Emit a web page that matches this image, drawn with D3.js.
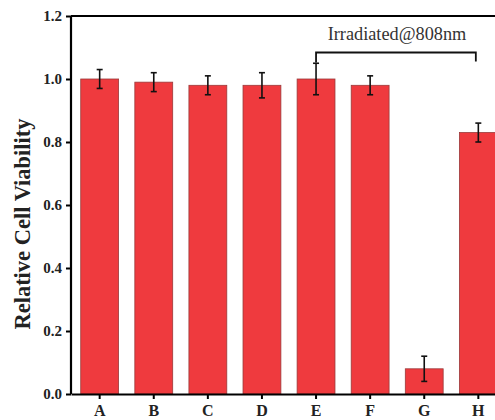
<!DOCTYPE html>
<html>
<head>
<meta charset="utf-8">
<script src="https://cdn.jsdelivr.net/npm/d3@7"></script>
<style>
  body { margin: 0; background: #fff; overflow: hidden; }
  svg { display: block; }
</style>
</head>
<body>
<div id="chart"></div>
<script>
// data
const groups = ['A', 'B', 'C', 'D', 'E', 'F', 'G', 'H'];
const viability = [1.00, 0.99, 0.98, 0.98, 1.00, 0.98, 0.08, 0.83];
const errors = [0.03, 0.03, 0.03, 0.04, 0.05, 0.03, 0.04, 0.03];
const yTicks = [0.0, 0.2, 0.4, 0.6, 0.8, 1.0, 1.2];
const bracketLabel = 'Irradiated@808nm';
const bracketFrom = 'E', bracketTo = 'H';

const W = 495, H = 420;
const margin = { top: 16, left: 71, bottom: 26 };
const plotRight = 507; // plot continues past the cropped edge
const font = '"Liberation Serif", "Times New Roman", serif';

const svg = d3.select('#chart').append('svg')
    .attr('width', W).attr('height', H);

const x = d3.scaleBand()
    .domain(groups)
    .range([margin.left, plotRight])
    .paddingInner(0.3)
    .paddingOuter(0.18);

const y = d3.scaleLinear()
    .domain([0, 1.2])
    .range([H - margin.bottom, margin.top]);

// bars
svg.append('g').selectAll('rect')
    .data(groups)
    .enter().append('rect')
    .attr('x', d => x(d))
    .attr('y', (d, i) => y(viability[i]))
    .attr('width', x.bandwidth())
    .attr('height', (d, i) => y(0) - y(viability[i]))
    .attr('fill', '#ef3a3e')
    .attr('stroke', '#9a3a3a')
    .attr('stroke-width', 0.8);

// error bars
const eb = svg.append('g').attr('stroke', '#111').attr('stroke-width', 1.6);
groups.forEach((g, i) => {
    const cx = x(g) + x.bandwidth() / 2;
    const hi = y(viability[i] + errors[i]), lo = y(viability[i] - errors[i]);
    eb.append('line').attr('x1', cx).attr('x2', cx).attr('y1', hi).attr('y2', lo);
    eb.append('line').attr('x1', cx - 3).attr('x2', cx + 3).attr('y1', hi).attr('y2', hi);
    eb.append('line').attr('x1', cx - 3).attr('x2', cx + 3).attr('y1', lo).attr('y2', lo);
});

// axes
const yAxis = svg.append('g')
    .attr('transform', `translate(${margin.left},0)`)
    .call(d3.axisLeft(y).tickValues(yTicks).tickFormat(d3.format('.1f')).tickSize(5).tickSizeOuter(0));
const xAxis = svg.append('g')
    .attr('transform', `translate(0,${y(0)})`)
    .call(d3.axisBottom(x).tickSize(5).tickSizeOuter(0));

[yAxis, xAxis].forEach(a => {
    a.select('.domain').attr('stroke', '#000').attr('stroke-width', 2.2);
    a.selectAll('.tick line').attr('stroke', '#000').attr('stroke-width', 2);
    a.selectAll('.tick text')
        .attr('font-family', font).attr('font-weight', 'bold')
        .attr('font-size', 15).attr('fill', '#222');
});
yAxis.selectAll('.tick text').attr('x', -9);
xAxis.selectAll('.tick text').attr('y', 11).attr('font-size', 16);
yAxis.select('.domain').attr('d', `M0,${y(0)}V${y(1.2)}`);

// top frame line
svg.append('line')
    .attr('x1', margin.left).attr('x2', plotRight)
    .attr('y1', y(1.2)).attr('y2', y(1.2))
    .attr('stroke', '#000').attr('stroke-width', 2.2);

// y label
svg.append('text')
    .attr('transform', `translate(30,224) rotate(-90)`)
    .attr('text-anchor', 'middle')
    .attr('font-family', font).attr('font-weight', 'bold')
    .attr('font-size', 22.5).attr('fill', '#222')
    .text('Relative Cell Viability');

// irradiation bracket
const bx1 = x(bracketFrom) + x.bandwidth() / 2;
const bx2 = x(bracketTo) + x.bandwidth() / 2 - 2.5;
const by = 52.5;
svg.append('path')
    .attr('d', `M${bx1},${by + 10}V${by}H${bx2}V${by + 9}`)
    .attr('fill', 'none').attr('stroke', '#111').attr('stroke-width', 1.8);
svg.append('text')
    .attr('x', 397).attr('y', 40)
    .attr('text-anchor', 'middle')
    .attr('font-family', font).attr('font-size', 18.3).attr('fill', '#333')
    .text(bracketLabel);
</script>
</body>
</html>
